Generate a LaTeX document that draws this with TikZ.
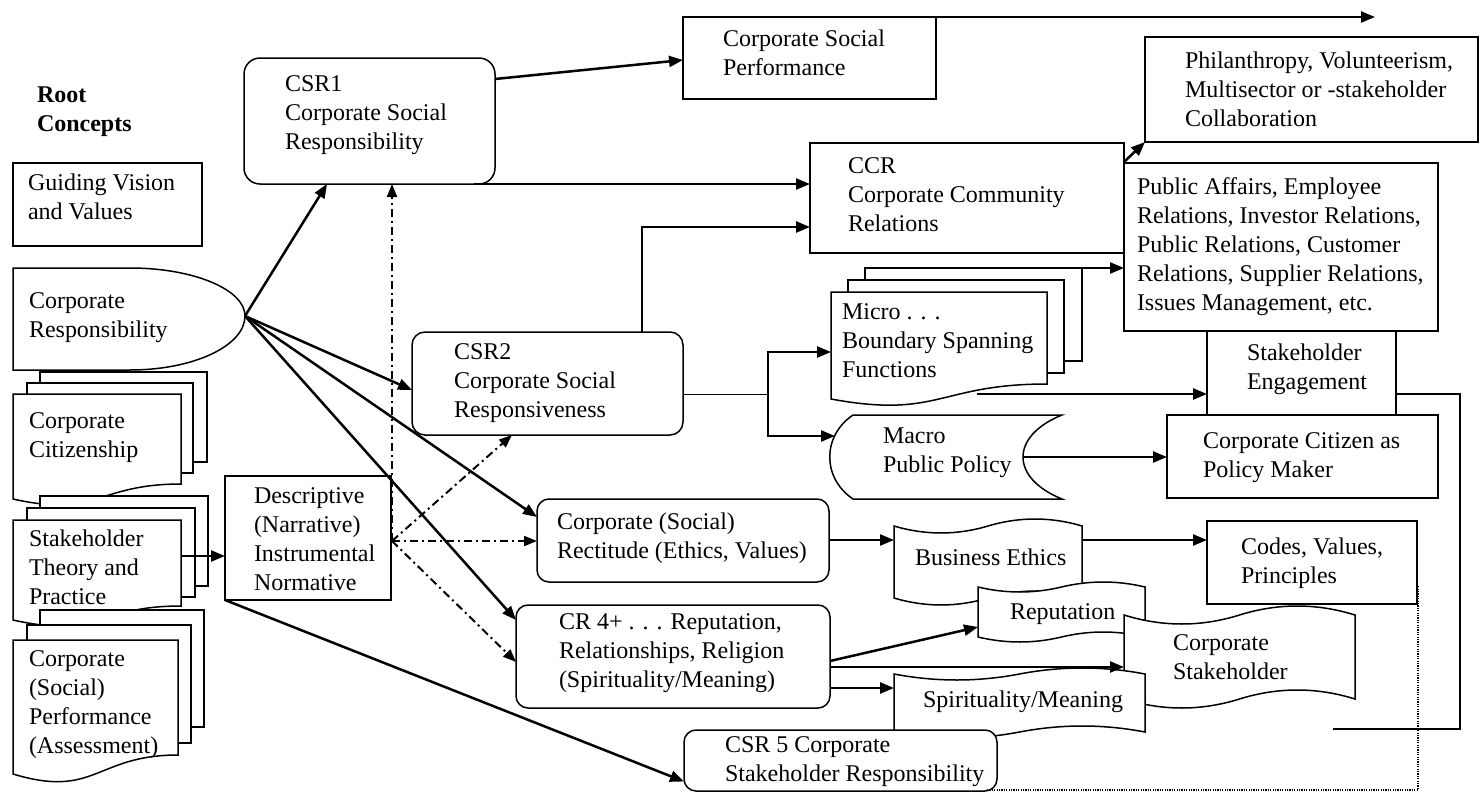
\documentclass[tikz,border=0pt]{standalone}
\usepackage{fontspec}
\setmainfont{Liberation Serif}
\usetikzlibrary{arrows.meta,calc}
\newcommand{\tapepath}[5]{(#1,#3) .. controls ({#1+(#2-#1)/6},{#3+1.333*#5}) and ({#1+(#2-#1)/3},{#3+1.333*#5}) .. ({(#1+#2)/2},#3) .. controls ({#1+2*(#2-#1)/3},{#3-1.333*#5}) and ({#1+5*(#2-#1)/6},{#3-1.333*#5}) .. (#2,#3) -- (#2,#4) .. controls ({#1+5*(#2-#1)/6},{#4-1.333*#5}) and ({#1+2*(#2-#1)/3},{#4-1.333*#5}) .. ({(#1+#2)/2},#4) .. controls ({#1+(#2-#1)/3},{#4+1.333*#5}) and ({#1+(#2-#1)/6},{#4+1.333*#5}) .. (#1,#4) -- cycle}
\begin{document}
\begin{tikzpicture}[x=0.5pt,y=-0.5pt,
  box/.style={draw,line width=0.75pt,fill=white,rectangle,inner sep=0pt,outer sep=0pt},
  rbox/.style={box,rounded corners=6pt},
  sz/.style 2 args={minimum width=#1*0.5pt,minimum height=#2*0.5pt},
  shp/.style={draw,line width=0.75pt,fill=white},
  lbl/.style={anchor=west,align=left,inner sep=0pt,outer sep=0pt,font=\fontsize{12}{14.5}\selectfont},
  arr/.style={line width=1.25pt,-{Triangle[length=7pt,width=5.5pt]}},
  dda/.style={line width=1pt,dash pattern=on 4pt off 2pt on 1pt off 2pt,-{Triangle[length=6.5pt,width=5pt]}},
  thinln/.style={line width=0.5pt},
  loopln/.style={line width=0.75pt},
  dotln/.style={line width=0.6pt,dash pattern=on 0.6pt off 0.6pt}]
\useasboundingbox (0,0) rectangle (1480,793);
\fill[white] (0,0) rectangle (1480,793);

% ---------- left column ----------
\node[box,sz={189}{83}] (gv) at (107.5,204.5) {};
\draw[shp] (13,268) -- (130,268) .. controls (193.5,268) and (245,289.5) .. (245,316)
  .. controls (245,345.8) and (193.5,370) .. (130,370) -- (13,370) -- cycle;
\coordinate (crtip) at (245,316);

\node[box,sz={167}{90}] (cit3) at (123.5,417) {};
\node[box,sz={166}{90}] (cit2) at (110,428) {};
\draw[shp] (13,394) -- (181,394) -- (181,484) .. controls (97,484) and (97,518) .. (13,499) -- cycle;

\node[box,sz={168}{90}] (sth3) at (124,541) {};
\node[box,sz={168}{89}] (sth2) at (111,552.5) {};
\draw[shp] (13,520) -- (181,520) -- (181,606) .. controls (97,606) and (97,639) .. (13,620) -- cycle;
\coordinate (sthR) at (181,556);

\node[box,sz={164}{117}] (perf3) at (122,668.5) {};
\node[box,sz={164}{118}] (perf2) at (109,684) {};
\draw[shp] (13,640) -- (178,640) -- (178,755) .. controls (95.5,755) and (95.5,799) .. (13,774) -- cycle;

\node[box,sz={166}{124}] (desc) at (308,538) {};

% ---------- middle ----------
\node[box,sz={251}{126},rounded corners=8pt] (csr1) at (369.5,121) {};
\node[box,sz={253}{82}] (csp) at (809.5,58) {};
\node[rbox,sz={271}{103},rounded corners=6.5pt] (csr2) at (547.5,383.5) {};
\node[rbox,sz={292}{83}] (rect) at (683,540.5) {};
\node[rbox,sz={314}{103}] (cr4) at (673,656.5) {};

% ---------- right ----------
\node[box,sz={333}{105}] (phil) at (1311.5,89.5) {};
\node[box,sz={314}{110}] (ccr) at (967,198) {};
\node[box,sz={314}{168}] (pa) at (1281,247) {};
\node[box,sz={189}{84}] (se) at (1301.5,373) {};
\node[box,sz={271}{83}] (ccpm) at (1302.5,456.5) {};
\node[box,sz={210}{83}] (codes) at (1312,562.5) {};

\node[box,sz={217}{93}] (mic3) at (973.5,314.5) {};
\node[box,sz={216}{93}] (mic2) at (956,326.5) {};
\draw[shp] (831,292) -- (1047,292) -- (1047,384) .. controls (939,384) and (939,419) .. (831,399) -- cycle;
\coordinate (micL) at (831,352);
\coordinate (micB) at (977,394);

\draw[shp] (853,415) -- (1062,415) .. controls (1010,436) and (1010,478) .. (1062,499)
  -- (853,499) .. controls (822,478) and (822,436) .. (853,415) -- cycle;
\coordinate (macL) at (835,436);
\coordinate (macR) at (1023,457);

\draw[shp] \tapepath{894}{1082}{526}{598}{7};
\coordinate (beL) at (894,540);
\coordinate (beR) at (1082,540);
\draw[shp] \tapepath{978}{1145}{587}{637}{5};
\coordinate (repL) at (978,627);
\draw[shp] \tapepath{1124}{1355}{615}{699}{9};
\coordinate (csL) at (1124,667);
\draw[shp] \tapepath{894}{1145}{674}{732}{6};
\coordinate (spL) at (894,688);

\node[rbox,sz={313}{61}] (csr5) at (840.5,760.5) {};

% ---------- connectors ----------
\draw[arr] (crtip) -- ($(csr1.south west)+(83,0)$);
\draw[arr] (crtip) -- ($(csr2.west)+(0,6.5)$);
\draw[arr] (crtip) -- ($(rect.west)+(0,-23.5)$);
\draw[arr] (crtip) -- ($(cr4.west)+(0,-36.5)$);
\draw[arr] ($(csr1.east)+(0,-42)$) -- ($(csp.west)+(0,2)$);
\draw[arr] ($(csr1.south east)+(-21,0)$) -- ($(ccr.west)+(0,-14)$);
\draw[arr] ($(csr2.north west)+(230,0)$) |- ($(ccr.west)+(0,29)$);
\coordinate (toparr) at (1375,17);
\draw[arr] (csp.north east) -- (toparr);
\draw[arr] ($(ccr.north east)+(0,19)$) -- (phil.south west);
\draw[arr] ($(mic3.north east)+(-20,0)$) -- ($(pa.west)+(0,21)$);
\draw[arr] (micB) -- ($(se.west)+(0,21)$);

\coordinate (jn) at (768,394);
\coordinate (jt) at (768,352);
\coordinate (jb) at (768,436);
\draw[thinln] ($(csr2.east)+(0,10.5)$) -- (jn);
\draw[arr,line cap=rect] (jt) -- (micL);
\draw[arr,line cap=rect] (jt) -- (jb) -- (macL);
\draw[arr] (macR) -- ($(ccpm.west)+(0,0.5)$);

\draw[arr] ($(rect.east)+(0,-0.5)$) -- (beL);
\draw[arr] (beR) -- ($(codes.west)+(0,-22.5)$);
\draw[arr] ($(cr4.east)+(0,4.5)$) -- (repL);
\draw[arr] ($(cr4.east)+(0,10.5)$) -- (csL);
\draw[arr] ($(cr4.east)+(0,31.5)$) -- (spL);
\draw[arr] (desc.south west) -- ($(csr5.west)+(0,21)$);
\draw[arr] (sthR) -- ($(desc.west)+(0,18)$);

\coordinate (loopc) at (1460,729);
\coordinate (loopend) at (1333,729);
\draw[loopln] ($(se.east)+(0,21)$) -| (loopc) -- (loopend);
\draw[dotln] ($(csr5.south east)+(-10,-1)$) -| ($(codes.south east)+(1,-18)$);

\coordinate (dd) at ($(desc.east)+(1,3)$);
\draw[dda] (dd) -- ($(csr2.south west)+(100,0)$);
\draw[dda] (dd) -- ($(rect.west)+(0,0.5)$);
\draw[dda] (dd) -- ($(cr4.west)+(0,5.5)$);
\draw[dda] (dd) -- ($(csr1.south west)+(148,0)$);

% ---------- texts ----------
\node[lbl,font=\fontsize{12}{14.5}\selectfont\bfseries] (troot) at (37,112) {Root\\Concepts};
\node[lbl] (tgv) at (28,197) {Guiding Vision\\and Values};
\node[lbl] (tcr) at (29,318) {Corporate\\Responsibility};
\node[lbl] (tcit) at (29,438) {Corporate\\Citizenship};
\node[lbl] (tsth) at (29,567) {Stakeholder\\Theory and\\Practice};
\node[lbl] (tperf) at (29,705) {Corporate\\(Social)\\Performance\\(Assessment)};
\node[lbl] (tdesc) at (254,539) {Descriptive\\(Narrative)\\Instrumental\\Normative};
\node[lbl] (tcsr1) at (285,115) {CSR1\\Corporate Social\\Responsibility};
\node[lbl] (tcsp) at (723,53) {Corporate Social\\Performance};
\node[lbl] (tphil) at (1185,89) {Philanthropy, Volunteerism,\\Multisector or -stakeholder\\Collaboration};
\node[lbl] (tccr) at (848,195) {CCR\\Corporate Community\\Relations};
\node[lbl] (tpa) at (1137,246.5) {Public Affairs, Employee\\Relations, Investor Relations,\\Public Relations, Customer\\Relations, Supplier Relations,\\Issues Management, etc.};
\node[lbl] (tse) at (1247,369) {Stakeholder\\Engagement};
\node[lbl] (tccpm) at (1203,458) {Corporate Citizen as\\Policy Maker};
\node[lbl] (tcodes) at (1241,563) {Codes, Values,\\Principles};
\node[lbl] (tcsr2) at (454,383) {CSR2\\Corporate Social\\Responsiveness};
\node[lbl] (trect) at (557,538) {Corporate (Social)\\Rectitude (Ethics, Values)};
\node[lbl] (tcr4) at (559,653) {CR 4+ . . . Reputation,\\Relationships, Religion\\(Spirituality/Meaning)};
\node[lbl] (tcsr5) at (725,762) {CSR 5 Corporate\\Stakeholder Responsibility};
\node[lbl] (tmic) at (842,341) {Micro . . .\\Boundary Spanning\\Functions};
\node[lbl] (tmac) at (883,453) {Macro\\Public Policy};
\node[lbl] (tbe) at (915,557) {Business Ethics};
\node[lbl] (trep) at (1010,614) {Reputation};
\node[lbl] (tcs) at (1173,657.5) {Corporate\\Stakeholder};
\node[lbl] (tsp) at (923,702) {Spirituality/Meaning};
\end{tikzpicture}
\end{document}
